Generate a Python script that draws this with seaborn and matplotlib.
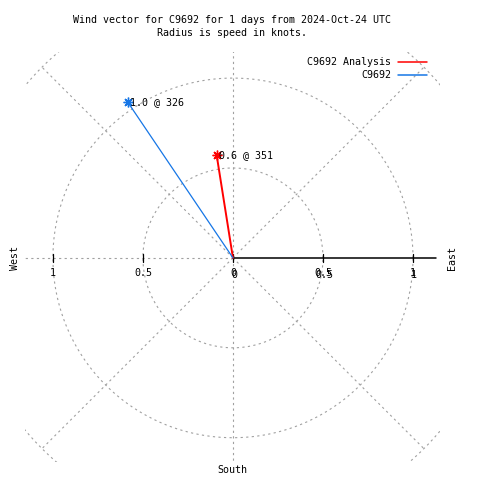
import numpy as np
import pandas as pd
import matplotlib
matplotlib.use("Agg")
import matplotlib.pyplot as plt
from matplotlib.lines import Line2D
import seaborn as sns

# wind vectors (meteorological direction, degrees from north; speed in knots)
series_names = ["C9692 Analysis", "C9692"]
directions = [351, 326]
speeds = [0.58, 1.045]
series_colors = ["#ff0000", "#1676e6"]

ring_radii = [0.5, 1.0, 1.5]
spoke_angles = [0, 45, 90, 135, 180, 225, 270, 315]
axis_ticks = [-1, -0.5, 0, 0.5, 1]
axis_tick_labels = ["1", "0.5", "0", "0.5", "1"]

title_lines = ["Wind vector for C9692 for 1 days from 2024-Oct-24 UTC",
               "Radius is speed in knots."]

sns.set_theme(style="white")
plt.rcParams["font.family"] = ["DejaVu Sans Mono", "DejaVu Sans"]
plt.rcParams["text.color"] = "black"
FS = 7.2
GRID = "#a0a0a0"
DASH = (0, (2, 3))

fig = plt.figure(figsize=(4.8, 4.8), dpi=100)
W = H = 480.0
# plot area in pixels: x 25..440, y 52..462
ax = fig.add_axes([25 / W, 18 / H, 415 / W, 410 / H])
ax.set_xlim(-1.155, 1.15)
ax.set_ylim(-1.135, 1.145)
ax.axis("off")

# polar grid: rings and spokes
theta = np.linspace(0, 2 * np.pi, 361)
for r in ring_radii:
    ax.plot(r * np.cos(theta), r * np.sin(theta), color=GRID, lw=0.8, ls=DASH)
for a in spoke_angles:
    if a == 0:
        continue  # east axis drawn solid below
    rad = np.deg2rad(a)
    ax.plot([0, 1.5 * np.cos(rad)], [0, 1.5 * np.sin(rad)], color=GRID, lw=0.8, ls=DASH)

# solid east axis with ticks
ax.plot([0, 1.13], [0, 0], color="black", lw=1.1)
for t in axis_ticks:
    ax.plot([t, t], [-0.022, 0.022], color="black", lw=0.9)

# tick labels (right side overprinted as in the original)
for t, lab in zip(axis_ticks, axis_tick_labels):
    ax.annotate(lab, (t, 0), xytext=(0, -15), textcoords="offset pixels",
                ha="center", va="center", fontsize=FS, color="black")
    if t >= 0:
        ax.annotate(lab, (t, 0), xytext=(1, -17), textcoords="offset pixels",
                    ha="center", va="center", fontsize=FS, color="black")

# wind vectors
for name, d, s, c in zip(series_names, directions, speeds, series_colors):
    u = s * np.sin(np.deg2rad(d))
    v = s * np.cos(np.deg2rad(d))
    seg = pd.DataFrame({"x": [0.0, u], "y": [0.0, v]})
    sns.lineplot(data=seg, x="x", y="y", sort=False, estimator=None, ax=ax,
                 color=c, lw=1.4 if c == "#ff0000" else 0.9)
    ax.plot([u], [v], marker=(8, 2, 0), ms=7, mew=1.0, color=c, ls="none")
    ax.annotate(f"{s:.1f} @ {d}", (u, v), xytext=(2, 0), textcoords="offset pixels",
                ha="left", va="center", fontsize=FS, color="black")
ax.set_xlabel("")
ax.set_ylabel("")

# titles
fig.text(232 / W, 1 - 20 / H, title_lines[0], ha="center", va="center", fontsize=FS)
fig.text(232 / W, 1 - 33 / H, title_lines[1], ha="center", va="center", fontsize=FS)

# compass labels
fig.text(15 / W, 1 - 258 / H, "West", rotation=90, ha="center", va="center", fontsize=FS)
fig.text(452 / W, 1 - 258 / H, "East", rotation=90, ha="center", va="center", fontsize=FS)
fig.text(232 / W, 1 - 470 / H, "South", ha="center", va="center", fontsize=FS)

# legend
for i, (name, c) in enumerate(zip(series_names, series_colors)):
    y = 1 - (62 + 13 * i) / H
    fig.text(391 / W, y, name, ha="right", va="center", fontsize=FS)
    fig.add_artist(Line2D([398 / W, 427 / W], [y, y], color=c, lw=1.1,
                          transform=fig.transFigure))

fig.savefig("out.png", dpi=100, facecolor="white")
